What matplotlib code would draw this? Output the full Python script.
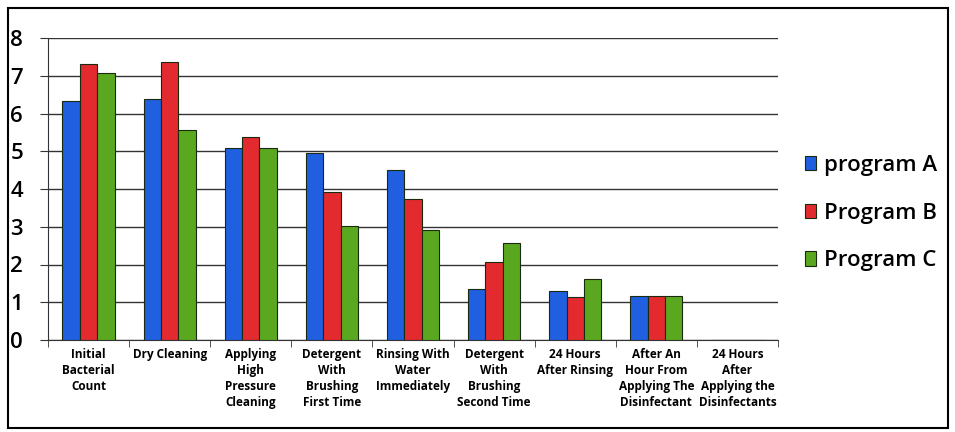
import matplotlib.pyplot as plt
import numpy as np
from matplotlib.patches import Rectangle

plt.rcParams['font.family'] = ['Open Sans', 'DejaVu Sans']

stages = ["Initial\nBacterial\nCount", "Dry Cleaning", "Applying\nHigh\nPressure\nCleaning",
          "Detergent\nWith\nBrushing\nFirst Time", "Rinsing With\nWater\nImmediately",
          "Detergent\nWith\nBrushing\nSecond Time", "24 Hours\nAfter Rinsing",
          "After An\nHour From\nApplying The\nDisinfectant", "24 Hours\nAfter\nApplying the\nDisinfectants"]
program_a = [6.32, 6.38, 5.08, 4.95, 4.5, 1.35, 1.3, 1.16, 0]
program_b = [7.32, 7.36, 5.38, 3.92, 3.73, 2.06, 1.14, 1.16, 0]
program_c = [7.06, 5.56, 5.08, 3.02, 2.92, 2.58, 1.62, 1.16, 0]
series_names = ["program A", "Program B", "Program C"]
colors = ["#1f5fe0", "#e32b2f", "#5aa81f"]

fig = plt.figure(figsize=(9.55, 4.32), dpi=100)
ax = fig.add_axes([48/955, 92/432, 730/955, 302/432])

x = np.arange(len(stages))
w = 0.215
for i, (vals, name, c) in enumerate(zip([program_a, program_b, program_c], series_names, colors)):
    ax.bar(x + (i - 1) * w, vals, w, color=c, edgecolor="#1a2a10", linewidth=0.8, label=name, zorder=3)

ax.set_xlim(-0.5, len(stages) - 0.5)
ax.set_ylim(0, 8)
ax.set_yticks(range(0, 9))
ax.yaxis.grid(True, color="#333333", linewidth=1.0, zorder=0)
ax.set_xticks(x)
ax.set_xticklabels(stages, fontsize=8.5, fontweight="bold", linespacing=1.3)
ax.set_xticks(np.arange(-0.5, len(stages)), minor=True)
ax.tick_params(axis="x", which="major", length=0, pad=6)
ax.tick_params(axis="x", which="minor", length=5, direction="out", color="#333333")
ax.tick_params(axis="y", length=6, labelsize=16, pad=12, color="#333333")
for lbl in ax.get_yticklabels():
    lbl.set_fontweight("semibold")
for s in ["top", "right"]:
    ax.spines[s].set_visible(False)
ax.spines["left"].set_color("#333333")
ax.spines["bottom"].set_color("#333333")

leg = ax.legend(loc="center left", bbox_to_anchor=(1.01, 0.42), frameon=False,
                prop={"size": 16, "weight": "semibold"},
                handlelength=0.5, handleheight=0.6, handletextpad=0.35, labelspacing=1.2)

fig.patches.append(Rectangle((8/955, 4/432), 940/955, 420/432, transform=fig.transFigure,
                             fill=False, edgecolor="black", linewidth=1.5))

fig.savefig("out.png", dpi=100)
